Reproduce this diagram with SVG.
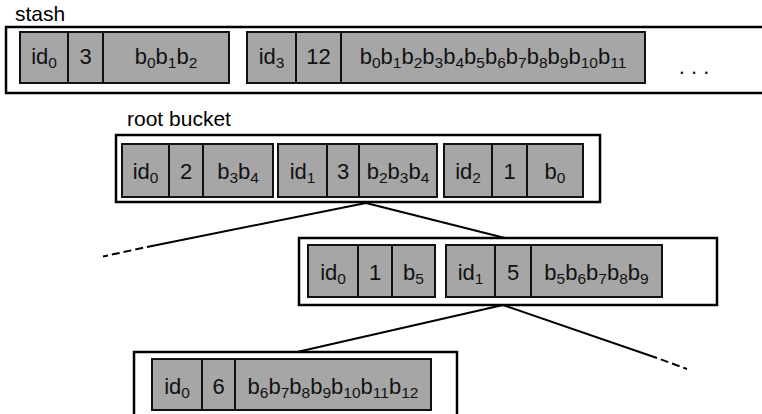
<svg xmlns="http://www.w3.org/2000/svg" width="762" height="414" viewBox="0 0 762 414">
<style>
.outer{fill:#fff;stroke:#000;stroke-width:2.5}
.rec{fill:#a6a6a6;stroke:#111;stroke-width:2}
.div{stroke:#111;stroke-width:2}
.t{font-family:"Liberation Sans",Arial,sans-serif;font-size:22px;fill:#111;text-anchor:middle}
.lbl{font-family:"Liberation Sans",Arial,sans-serif;font-size:21px;fill:#000}
.s{font-size:15.5px}
.ln{fill:none;stroke:#000;stroke-width:2}
.dash{fill:none;stroke:#000;stroke-width:2;stroke-dasharray:8 4;stroke-dashoffset:8}
</style>

<g id="connectors">
<line class="ln" x1="366" y1="203" x2="505" y2="238"/>
<line class="ln" x1="366" y1="203" x2="147" y2="247"/>
<line class="dash" x1="147" y1="247" x2="103" y2="256.5"/>
<line class="ln" x1="503" y1="305" x2="297" y2="352"/>
<line class="ln" x1="503" y1="305" x2="657" y2="358"/>
<line class="dash" x1="657" y1="358" x2="687" y2="369"/>
</g>

<g id="stash">
<text class="lbl" x="15" y="21">stash</text>
<rect class="outer" x="6" y="27" width="780" height="66"/>
<g id="stash-rec0">
<rect class="rec" x="20" y="32" width="209" height="51"/>
<line class="div" x1="68" y1="32" x2="68" y2="83"/>
<line class="div" x1="103" y1="32" x2="103" y2="83"/>
<text class="t" x="44" y="64">id<tspan class="s" dy="4">0</tspan></text>
<text class="t" x="85.5" y="64">3</text>
<text class="t" x="166" y="64">b<tspan class="s" dy="4">0</tspan><tspan dy="-4">b</tspan><tspan class="s" dy="4">1</tspan><tspan dy="-4">b</tspan><tspan class="s" dy="4">2</tspan></text>
</g>
<g id="stash-rec1">
<rect class="rec" x="247" y="32" width="398" height="51"/>
<line class="div" x1="296" y1="32" x2="296" y2="83"/>
<line class="div" x1="341" y1="32" x2="341" y2="83"/>
<text class="t" x="271.5" y="64">id<tspan class="s" dy="4">3</tspan></text>
<text class="t" x="318.5" y="64">12</text>
<text class="t" x="493" y="64">b<tspan class="s" dy="4">0</tspan><tspan dy="-4">b</tspan><tspan class="s" dy="4">1</tspan><tspan dy="-4">b</tspan><tspan class="s" dy="4">2</tspan><tspan dy="-4">b</tspan><tspan class="s" dy="4">3</tspan><tspan dy="-4">b</tspan><tspan class="s" dy="4">4</tspan><tspan dy="-4">b</tspan><tspan class="s" dy="4">5</tspan><tspan dy="-4">b</tspan><tspan class="s" dy="4">6</tspan><tspan dy="-4">b</tspan><tspan class="s" dy="4">7</tspan><tspan dy="-4">b</tspan><tspan class="s" dy="4">8</tspan><tspan dy="-4">b</tspan><tspan class="s" dy="4">9</tspan><tspan dy="-4">b</tspan><tspan class="s" dy="4">10</tspan><tspan dy="-4">b</tspan><tspan class="s" dy="4">11</tspan></text>
</g>
<text class="t" x="694" y="74">. . .</text>
</g>

<g id="root-bucket">
<text class="lbl" x="127" y="126">root bucket</text>
<rect class="outer" x="116" y="135" width="484" height="67"/>
<g id="root-rec0">
<rect class="rec" x="122" y="144" width="151" height="53"/>
<line class="div" x1="169" y1="144" x2="169" y2="197"/>
<line class="div" x1="203" y1="144" x2="203" y2="197"/>
<text class="t" x="145.5" y="179">id<tspan class="s" dy="4">0</tspan></text>
<text class="t" x="186" y="179">2</text>
<text class="t" x="238" y="179">b<tspan class="s" dy="4">3</tspan><tspan dy="-4">b</tspan><tspan class="s" dy="4">4</tspan></text>
</g>
<g id="root-rec1">
<rect class="rec" x="278" y="144" width="159" height="53"/>
<line class="div" x1="327" y1="144" x2="327" y2="197"/>
<line class="div" x1="359" y1="144" x2="359" y2="197"/>
<text class="t" x="302.5" y="179">id<tspan class="s" dy="4">1</tspan></text>
<text class="t" x="343" y="179">3</text>
<text class="t" x="398" y="179">b<tspan class="s" dy="4">2</tspan><tspan dy="-4">b</tspan><tspan class="s" dy="4">3</tspan><tspan dy="-4">b</tspan><tspan class="s" dy="4">4</tspan></text>
</g>
<g id="root-rec2">
<rect class="rec" x="444" y="144" width="139" height="53"/>
<line class="div" x1="492" y1="144" x2="492" y2="197"/>
<line class="div" x1="527" y1="144" x2="527" y2="197"/>
<text class="t" x="468" y="179">id<tspan class="s" dy="4">2</tspan></text>
<text class="t" x="509.5" y="179">1</text>
<text class="t" x="555" y="179">b<tspan class="s" dy="4">0</tspan></text>
</g>
</g>

<g id="bucket-2">
<rect class="outer" x="299" y="238" width="418" height="67"/>
<g id="b2-rec0">
<rect class="rec" x="308" y="245" width="127" height="52"/>
<line class="div" x1="358" y1="245" x2="358" y2="297"/>
<line class="div" x1="392" y1="245" x2="392" y2="297"/>
<text class="t" x="333" y="280">id<tspan class="s" dy="4">0</tspan></text>
<text class="t" x="375" y="280">1</text>
<text class="t" x="413.5" y="280">b<tspan class="s" dy="4">5</tspan></text>
</g>
<g id="b2-rec1">
<rect class="rec" x="446" y="245" width="216" height="52"/>
<line class="div" x1="495" y1="245" x2="495" y2="297"/>
<line class="div" x1="531" y1="245" x2="531" y2="297"/>
<text class="t" x="470.5" y="280">id<tspan class="s" dy="4">1</tspan></text>
<text class="t" x="513" y="280">5</text>
<text class="t" x="596.5" y="280">b<tspan class="s" dy="4">5</tspan><tspan dy="-4">b</tspan><tspan class="s" dy="4">6</tspan><tspan dy="-4">b</tspan><tspan class="s" dy="4">7</tspan><tspan dy="-4">b</tspan><tspan class="s" dy="4">8</tspan><tspan dy="-4">b</tspan><tspan class="s" dy="4">9</tspan></text>
</g>
</g>

<g id="bucket-3">
<rect class="outer" x="134" y="352" width="323" height="80"/>
<g id="b3-rec0">
<rect class="rec" x="152" y="359" width="279" height="51"/>
<line class="div" x1="202" y1="359" x2="202" y2="410"/>
<line class="div" x1="235" y1="359" x2="235" y2="410"/>
<text class="t" x="177" y="394">id<tspan class="s" dy="4">0</tspan></text>
<text class="t" x="218.5" y="394">6</text>
<text class="t" x="333" y="394">b<tspan class="s" dy="4">6</tspan><tspan dy="-4">b</tspan><tspan class="s" dy="4">7</tspan><tspan dy="-4">b</tspan><tspan class="s" dy="4">8</tspan><tspan dy="-4">b</tspan><tspan class="s" dy="4">9</tspan><tspan dy="-4">b</tspan><tspan class="s" dy="4">10</tspan><tspan dy="-4">b</tspan><tspan class="s" dy="4">11</tspan><tspan dy="-4">b</tspan><tspan class="s" dy="4">12</tspan></text>
</g>
</g>
</svg>
